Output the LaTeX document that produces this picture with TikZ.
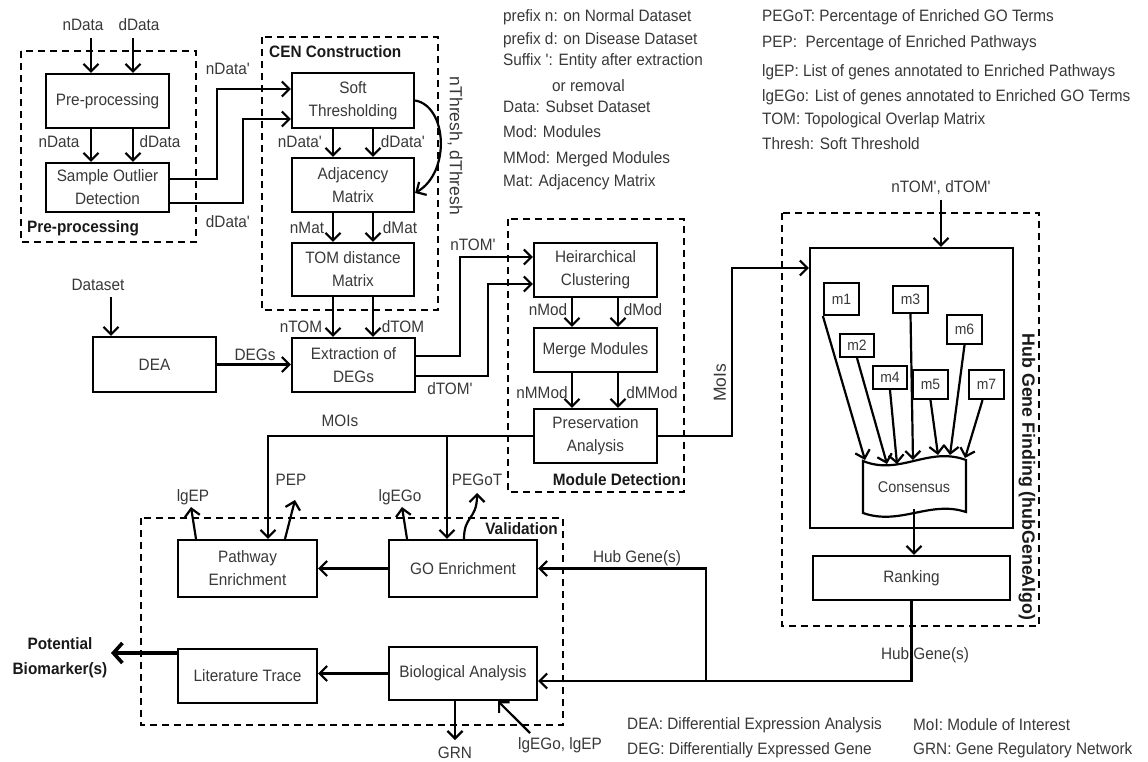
\documentclass[tikz,border=0pt]{standalone}
\usepackage{fontspec}
\setmainfont{Liberation Sans}[FakeStretch=0.93]
\newfontfamily\rotfont{Liberation Sans}
\usetikzlibrary{arrows.meta}
\newcommand\myq{\textquotesingle}
\begin{document}
\begin{tikzpicture}[x=1pt,y=-1pt,
  every node/.style={text=black!78, font=\fontsize{16.5}{23}\selectfont},
  box/.style={draw=black, line width=2.2pt, align=center, inner sep=0pt},
  mb/.style={draw=black, line width=2.2pt, inner sep=0pt, font=\fontsize{15}{18}\selectfont},
  grp/.style={draw=black, line width=2.2pt, dash pattern=on 7pt off 5pt},
  ttl/.style={inner sep=0pt, text=black!90, font=\fontsize{16.5}{20}\selectfont\bfseries},
  conn/.style={line width=2.2pt, draw=black},
  arr/.style={conn, -{Straight Barb[length=7.5pt,width=15pt]}},
  leg/.style={anchor=west, inner sep=0pt},
  rot/.style={inner sep=0pt, font=\rotfont\fontsize{17.5}{20}\selectfont},
]
\useasboundingbox (0,0) rectangle (1148,762);

% ---------- group frames ----------
\draw[grp] (21,51) rectangle (196,242);
\draw[grp] (262,37) rectangle (438,310);
\draw[grp] (508,219) rectangle (684,492);
\draw[grp] (782,213) rectangle (1039,626);
\draw[grp] (141,518) rectangle (563,725);

\node[ttl, anchor=west] (tpre) at (27,228) {Pre-processing};
\node[ttl, anchor=west] (tcen) at (269,52) {CEN Construction};
\node[ttl, anchor=east] (tmod) at (681,480) {Module Detection};
\node[ttl, anchor=east] (tval) at (558,529) {Validation};
\node[rot, rotate=-90, font=\rotfont\fontsize{17.8}{20}\selectfont\bfseries, text=black!90] (thub) at (1027,477) {Hub Gene Finding (hubGeneAlgo)};

% ---------- boxes ----------
\node[box, minimum width=123pt, minimum height=54pt] (pre) at (107.5,101) {Pre-processing};
\node[box, minimum width=123pt, minimum height=49pt] (sod) at (107.5,187.5) {Sample Outlier\\Detection};
\node[box, minimum width=122pt, minimum height=55pt] (soft) at (353,100.5) {Soft\\Thresholding};
\node[box, minimum width=122pt, minimum height=54pt] (adj) at (353,185) {Adjacency\\Matrix};
\node[box, minimum width=122pt, minimum height=53pt] (tom) at (353,269.5) {TOM distance\\Matrix};
\node[box, minimum width=123pt, minimum height=55pt] (dea) at (154.5,364.5) {DEA};
\node[box, minimum width=123pt, minimum height=54pt] (ext) at (353.5,365) {Extraction of\\DEGs};
\node[box, minimum width=123pt, minimum height=54pt] (hc) at (595.5,270) {Heirarchical\\Clustering};
\node[box, minimum width=123pt, minimum height=44pt] (mm) at (595.5,350) {Merge Modules};
\node[box, minimum width=123pt, minimum height=54pt] (pa) at (595.5,436) {Preservation\\Analysis};
\node[box, minimum width=203pt, minimum height=280pt] (hub) at (911.5,388) {};
\node[box, minimum width=197pt, minimum height=44pt] (rank) at (911.5,578) {Ranking};
\node[box, minimum width=139pt, minimum height=57pt] (path) at (247.5,568.5) {Pathway\\Enrichment};
\node[box, minimum width=148pt, minimum height=57pt] (go) at (463,568.5) {GO Enrichment};
\node[box, minimum width=139pt, minimum height=54pt] (lit) at (247.5,676) {Literature Trace};
\node[box, minimum width=148pt, minimum height=53pt] (bio) at (463,673.5) {Biological Analysis};

% module boxes
\node[mb, minimum width=35pt, minimum height=32pt] (m1) at (841.5,299) {m1};
\node[mb, minimum width=34pt, minimum height=23pt] (m2) at (857,345.5) {m2};
\node[mb, minimum width=35pt, minimum height=27pt] (m3) at (910.5,299.5) {m3};
\node[mb, minimum width=34pt, minimum height=23pt] (m4) at (890,377.5) {m4};
\node[mb, minimum width=35pt, minimum height=29pt] (m5) at (930.5,384.5) {m5};
\node[mb, minimum width=35pt, minimum height=29pt] (m6) at (964.5,329.5) {m6};
\node[mb, minimum width=35pt, minimum height=29pt] (m7) at (986.5,384.5) {m7};

% consensus (tape shape)
\draw[conn] (863,461) .. controls (900,476) and (928,446) .. (966,460) -- (966,512)
  .. controls (930,500) and (900,526) .. (863,513) -- cycle;
\node[font=\fontsize{15.5}{18}\selectfont] (cons) at (914,487) {Consensus};
\coordinate (k1) at (865,460);
\coordinate (k2) at (887,464);
\coordinate (k3) at (897,464);
\coordinate (k4) at (913,460);
\coordinate (k5) at (938,455);
\coordinate (k6) at (950,455);
\coordinate (k7) at (965,458);
\coordinate (kb) at (914,509);
\draw[arr] (m1.south west) -- (k1);
\draw[arr] (m2.south) -- (k2);
\draw[arr] (m4.south) -- (k3);
\draw[arr] (m3.south) -- (k4);
\draw[arr] (m5.south) -- (k5);
\draw[arr] (m6.south) -- (k6);
\draw[arr] ([xshift=-4pt]m7.south) -- (k7);
\draw[arr] (kb) -- (rank.north -| kb);

% ---------- pre-processing ----------
\coordinate (i1) at (91,38);
\coordinate (i2) at (133,38);
\node (lnd0) at (83,25) {nData};
\node (ldd0) at (139,25) {dData};
\draw[arr] (i1) -- (pre.north -| i1);
\draw[arr] (i2) -- (pre.north -| i2);
\draw[arr] (pre.south -| i1) -- (sod.north -| i1);
\draw[arr] (pre.south -| i2) -- (sod.north -| i2);
\node (lnd1) at (59,142) {nData};
\node (ldd1) at (160,142) {dData};

\draw[arr] (sod.east |- 0,179) -| (217,89) -- (soft.west |- 0,89);
\draw[arr] (sod.east |- 0,203) -| (243,119) -- (soft.west |- 0,119);
\node (lnd2) at (228,69) {nData\myq};
\node (ldd2) at (228,222) {dData\myq};

% ---------- CEN construction ----------
\draw[arr] (soft.south -| 333,0) -- (adj.north -| 333,0);
\draw[arr] (soft.south -| 373,0) -- (adj.north -| 373,0);
\node (lnd3) at (300,142) {nData\myq};
\node (ldd3) at (403,142) {dData\myq};
\draw[arr] (soft.east) .. controls (447,106) and (451,172) .. ([yshift=-8pt]adj.east);
\node[rot, rotate=-90] (lthr) at (455,146) {nThresh, dThresh};
\draw[arr] (adj.south -| 333,0) -- (tom.north -| 333,0);
\draw[arr] (adj.south -| 373,0) -- (tom.north -| 373,0);
\node (lnm) at (307,228) {nMat};
\node (ldm) at (400,228) {dMat};
\draw[arr] (tom.south -| 333,0) -- (ext.north -| 333,0);
\draw[arr] (tom.south -| 373,0) -- (ext.north -| 373,0);
\node (lnt) at (301,327) {nTOM};
\node (ldt) at (403,327) {dTOM};

% ---------- DEA ----------
\node (lds) at (98,285) {Dataset};
\coordinate (ds) at (111,297);
\draw[arr] (ds) -- (dea.north -| ds);
\draw[arr] (dea.east) -- (ext.west |- dea.east);
\node (ldeg) at (255,355) {DEGs};

% ---------- extraction outputs ----------
\draw[arr] (ext.east |- 0,356) -| (460,257) -- (hc.west |- 0,257);
\draw[arr] (ext.east |- 0,376) -| (488,284) -- (hc.west |- 0,284);
\node (lnt2) at (473,245) {nTOM\myq};
\node (ldt2) at (450,389) {dTOM\myq};

% ---------- module detection ----------
\draw[arr] (hc.south -| 572,0) -- (mm.north -| 572,0);
\draw[arr] (hc.south -| 618,0) -- (mm.north -| 618,0);
\node (lnmod) at (548,310) {nMod};
\node (ldmod) at (643,310) {dMod};
\draw[arr] (mm.south -| 572,0) -- (pa.north -| 572,0);
\draw[arr] (mm.south -| 618,0) -- (pa.north -| 618,0);
\node (lnmm) at (542,393) {nMMod};
\node (ldmm) at (652,393) {dMMod};

% MOIs
\draw[arr] (pa.east) -| (732,268) -- (hub.west |- 0,268);
\node[rot, rotate=90] (lmois) at (720,383) {MoIs};
\draw[arr] (pa.west) -| (path.north -| 268,0);
\coordinate (j1) at (447,436);
\draw[arr] (j1) -- (go.north -| j1);
\node (lmoi2) at (340,421) {MOIs};

% hub input
\node (lht) at (941,188) {nTOM\myq, dTOM\myq};
\coordinate (t1) at (941,200);
\draw[arr] (t1) -- (hub.north -| t1);

% ---------- hub genes ----------
\draw[arr] (rank.south) |- ([yshift=-7.5pt]bio.east);
\coordinate (hj) at (706,681);
\draw[arr] (hj) |- (go.east);
\node (lhg1) at (637,558) {Hub Gene(s)};
\node (lhg2) at (925,655) {Hub Gene(s)};

% ---------- validation ----------
\draw[arr] (go.west) -- (path.east |- go.west);
\draw[arr] (bio.west) -- (bio.west -| lit.east);
\coordinate (pb) at (111,653);
\draw[line width=3.6pt, -{Straight Barb[length=9pt,width=20pt]}] (lit.west |- pb) -- (pb);
\node[font=\fontsize{16.5}{25}\selectfont\bfseries, text=black!90, align=center] (lpb) at (60,658) {Potential\\Biomarker(s)};

\coordinate (e1) at (191,507);
\coordinate (e2) at (295,500);
\coordinate (e3) at (402,507);
\coordinate (e4) at (477,493);
\draw[arr] (path.north -| 196,0) -- (e1);
\draw[arr] (path.north -| 285,0) -- (e2);
\draw[arr] (go.north -| 407,0) -- (e3);
\draw[arr] (go.north -| 464,0) .. controls (464,515) and (477,520) .. (e4);
\node (llep) at (193,497) {lgEP};
\node (lpep) at (291,480) {PEP};
\node (llego) at (400,497) {lgEGo};
\node (lpegot) at (477,480) {PEGoT};

\coordinate (g1) at (455,740);
\draw[arr] (bio.south -| g1) -- (g1);
\node (lgrn) at (455,753) {GRN};
\coordinate (g2) at (530,733);
\draw[arr] (g2) -- (bio.south -| 498,0);
\node (lleg2) at (560,745) {lgEGo, lgEP};

% ---------- legends ----------
\node[leg] at (503,17) {prefix n: on Normal Dataset};
\node[leg] at (503,40) {prefix d: on Disease Dataset};
\node[leg] at (503,61) {Suffix \myq: Entity after extraction};
\node[leg] at (552,86) {or removal};
\node[leg] at (503,107) {Data: Subset Dataset};
\node[leg] at (503,132) {Mod: Modules};
\node[leg] at (503,159) {MMod: Merged Modules};
\node[leg] at (503,182) {Mat: Adjacency Matrix};

\node[leg] at (762,17) {PEGoT: Percentage of Enriched GO Terms};
\node[leg] at (762,43) {PEP:\ \ Percentage of Enriched Pathways};
\node[leg] at (762,72) {lgEP: List of genes annotated to Enriched Pathways};
\node[leg] at (762,97) {lgEGo: List of genes annotated to Enriched GO Terms};
\node[leg] at (762,120) {TOM: Topological Overlap Matrix};
\node[leg] at (762,144) {Thresh: Soft Threshold};

\node[leg] at (627,725) {DEA: Differential Expression Analysis};
\node[leg] at (627,750) {DEG: Differentially Expressed Gene};
\node[leg] at (913,725) {MoI: Module of Interest};
\node[leg] at (913,750) {GRN: Gene Regulatory Network};
\end{tikzpicture}
\end{document}
